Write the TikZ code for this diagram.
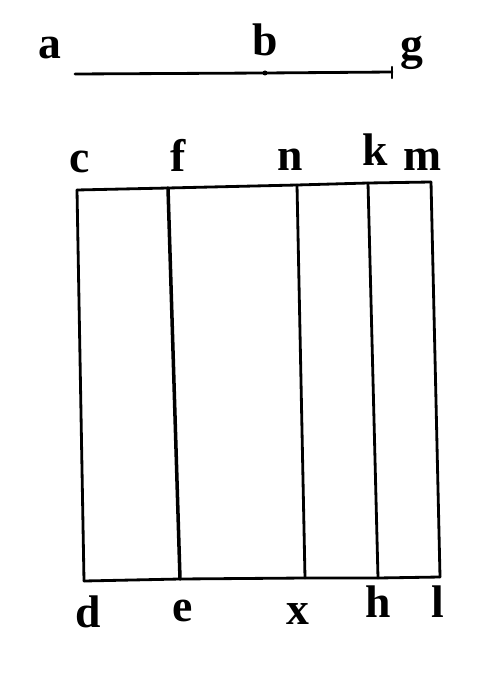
\documentclass[tikz,border=0pt]{standalone}
\usepackage{fontspec}
\setmainfont{Liberation Serif}
\begin{document}
\begin{tikzpicture}[x=0.02cm,y=-0.02cm,line width=1.6pt,line cap=round,
    lbl/.style={font=\fontsize{26}{26}\selectfont\bfseries,inner sep=0pt}]
    \useasboundingbox (0,0) rectangle (490,692);

    % line a -- b -- g
    \coordinate (pa) at (75,74);
    \coordinate (pb) at (265,73);
    \coordinate (pg) at (392,72);
    \coordinate (gt) at (392,67);
    \coordinate (gd) at (392,78);
    \draw (pa) -- (pb) -- (pg);
    \draw[line width=1.2pt] (gt) -- (gd);
    \fill (pb) circle (2.5);
    \node[lbl] (a) at (50,48) {a};
    \node[lbl] (b) at (265,40) {b};
    \node[lbl] (g) at (412,53) {g};

    % the rectangle, top and bottom points
    \foreach \n/\x/\y in {c/77/190,f/168/188,n/297/185,k/368/183,m/431/182}
        \coordinate (p\n) at (\x,\y);
    \foreach \n/\x/\y in {d/84/581,e/180/579,x/305/578,h/378/578,l/440/577}
        \coordinate (p\n) at (\x,\y);
    \draw (pc) -- (pf) -- (pn) -- (pk) -- (pm);
    \draw (pd) -- (pe) -- (px) -- (ph) -- (pl);
    \foreach \t/\b in {c/d,n/x,k/h,m/l}
        \draw (p\t) -- (p\b);
    \draw[line width=2pt] (pf) -- (pe);

    % labels
    \foreach \n/\x/\y in {c/80/162,f/178/155,n/290/160,k/375/150,m/423/160,
                          d/88/612,e/183/611,x/298/614,h/378/602,l/438/602}
        \node[lbl] (\n) at (\x,\y) {\n};
\end{tikzpicture}
\end{document}
